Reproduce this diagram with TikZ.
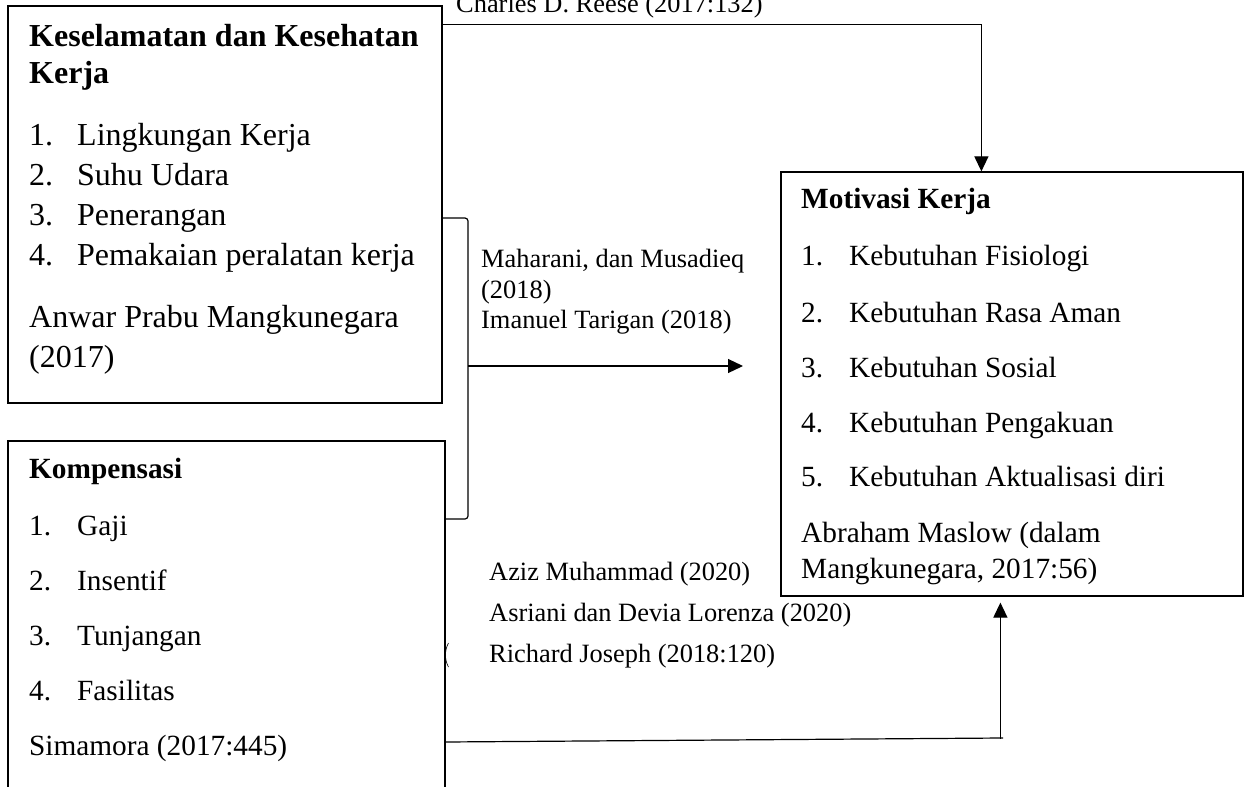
\documentclass[tikz,border=0pt]{standalone}
\usepackage{fontspec}
\setmainfont{Liberation Serif}
\usetikzlibrary{arrows.meta,calc}
\begin{document}
\begin{tikzpicture}[x=1bp,y=-1bp,
  box/.style={draw,line width=1.2bp,inner sep=0pt,rectangle},
  conn/.style={line width=1.2bp},
  arr/.style={line width=1.2bp,-{Triangle[length=15bp,width=14bp]}},
  lbl/.style={inner sep=0pt,anchor=base west,font=\fontsize{26.4bp}{30bp}\selectfont},
  bigt/.style={inner sep=0pt,anchor=base west,font=\fontsize{32bp}{38bp}\selectfont},
  medt/.style={inner sep=0pt,anchor=base west,font=\fontsize{29.3bp}{35bp}\selectfont}]
\useasboundingbox (0,0) rectangle (1248,787);
\clip (0,0) rectangle (1248,787);
\fill[white] (0,0) rectangle (1248,787);

% boxes
\node[box,minimum width=434bp,minimum height=397bp] (k3) at (225,204.5) {};
\node[box,minimum width=437bp,minimum height=379bp] (komp) at (226.5,630.5) {};
\node[box,minimum width=462bp,minimum height=424bp] (mot) at (1012,384) {};

% box 1 text
\node[bigt,font=\fontsize{32bp}{38bp}\selectfont\bfseries] (k3t1) at (29,47) {Keselamatan dan Kesehatan};
\node[bigt,font=\fontsize{32bp}{38bp}\selectfont\bfseries] (k3t2) at (29,84) {Kerja};
\foreach \i/\t/\y in {1/Lingkungan Kerja/145,2/Suhu Udara/185,3/Penerangan/225,4/Pemakaian peralatan kerja/265}{
  \node[bigt] (k3n\i) at (29,\y) {\i.};
  \node[bigt] (k3i\i) at (77,\y) {\t};
}
\node[bigt] (k3s1) at (29,327) {Anwar Prabu Mangkunegara};
\node[bigt] (k3s2) at (29,367) {(2017)};

% box 2 text
\node[medt,font=\fontsize{29.3bp}{35bp}\selectfont\bfseries] (kpt) at (29,478) {Kompensasi};
\foreach \i/\t/\y in {1/Gaji/535,2/Insentif/590,3/Tunjangan/645,4/Fasilitas/700}{
  \node[medt] (kpn\i) at (29,\y) {\i.};
  \node[medt] (kpi\i) at (77,\y) {\t};
}
\node[medt] (kps) at (29,755) {Simamora (2017:445)};

% motivasi text
\node[medt,font=\fontsize{29.3bp}{35bp}\selectfont\bfseries] (mott) at (801,208) {Motivasi Kerja};
\foreach \i/\t/\y in {1/Kebutuhan Fisiologi/265,2/Kebutuhan Rasa Aman/322,3/Kebutuhan Sosial/377,4/Kebutuhan Pengakuan/432,5/Kebutuhan Aktualisasi diri/486}{
  \node[medt] (motn\i) at (801,\y) {\i.};
  \node[medt] (moti\i) at (849,\y) {\t};
}
\node[medt] (mots1) at (801,542) {Abraham Maslow (dalam};
\node[medt] (mots2) at (801,578) {Mangkunegara, 2017:56)};

% labels
\node[lbl] (lc) at (456,12.5) {Charles D. Reese (2017:132)};
\node[lbl] (lm1) at (481,267) {Maharani, dan Musadieq};
\node[lbl] (lm2) at (481,298) {(2018)};
\node[lbl] (lm3) at (481,328) {Imanuel Tarigan (2018)};
\node[lbl] (la1) at (489,580) {Aziz Muhammad (2020)};
\node[lbl] (la2) at (489,621) {Asriani dan Devia Lorenza (2020)};
\node[lbl] (la3) at (489,662) {Richard Joseph (2018:120)};

% top connector
\draw[arr] ($(k3.north east)+(0,19)$) -| ($(mot.north west)+(201,0)$);

% bracket
\coordinate (brT) at (468,218);
\coordinate (brB) at (468,519);
\coordinate (brM) at (468,366);
\coordinate (arrEnd) at (743,366);
\draw[conn,rounded corners=3bp] (k3.east |- brT) -- (brT) -- (brB) -- (komp.east |- brB);
\draw[arr] (brM) -- (arrEnd);

% small mark
\draw[line width=0.6bp] (448.5,643) .. controls (444.5,650) and (444.5,660) .. (448.5,667);

% bottom connector
\coordinate (yb) at (0,742);
\coordinate (bR) at (1003,738);
\draw[conn] (komp.east |- yb) -- (bR);
\draw[arr] ($(mot.south west)+(220,142)$) -- ($(mot.south west)+(220,6)$);
\end{tikzpicture}
\end{document}
